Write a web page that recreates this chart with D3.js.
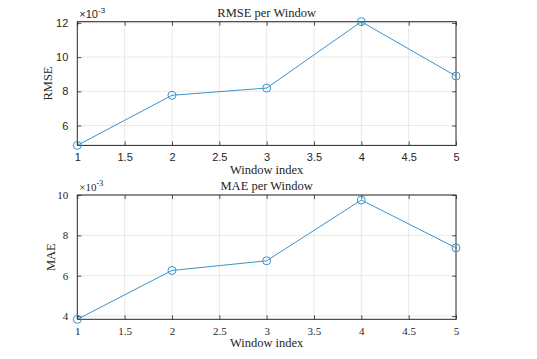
<!DOCTYPE html>
<html>
<head>
<meta charset="utf-8">
<script src="https://cdn.jsdelivr.net/npm/d3@7"></script>
<style>
  body { margin: 0; background: #fff; }
  svg { display: block; }
</style>
</head>
<body>
<div id="chart"></div>
<script>
// window indices and error values (x 1e-3)
const windows = [1, 2, 3, 4, 5];
const rmse = [4.84, 7.77, 8.19, 12.07, 8.89];
const mae = [3.84, 6.26, 6.74, 9.75, 7.38];
const xTicks = [1, 1.5, 2, 2.5, 3, 3.5, 4, 4.5, 5];
const rmseTicks = [6, 8, 10, 12];
const maeTicks = [4, 6, 8, 10];

const width = 537, height = 359;
const lineColor = "#3b93cb";
const serif = "'Liberation Serif', 'DejaVu Serif', serif";
const sans = "'Liberation Sans', Arial, sans-serif";

const svg = d3.select("#chart").append("svg")
  .attr("width", width).attr("height", height);

const panels = [
  { title: "RMSE per Window", ylab: "RMSE", values: rmse, ticks: rmseTicks,
    top: 21.7, bottom: 145.4, domain: [4.84, 12.07], tickFont: sans, ylabX: 52, labOff: 29 },
  { title: "MAE per Window", ylab: "MAE", values: mae, ticks: maeTicks,
    top: 195, bottom: 319.3, domain: [3.84, 10], tickFont: serif, ylabX: 55, labOff: 28 }
];

const left = 77.3, right = 456;

panels.forEach(p => {
  const x = d3.scaleLinear().domain([1, 5]).range([left, right]);
  const y = d3.scaleLinear().domain(p.domain).range([p.bottom, p.top]);
  const g = svg.append("g");

  // grid
  g.selectAll(".gx").data(xTicks.slice(1, -1)).enter().append("line")
    .attr("x1", d => x(d)).attr("x2", d => x(d))
    .attr("y1", p.top).attr("y2", p.bottom)
    .attr("stroke", "#e3e3e3").attr("stroke-width", 0.8);
  g.selectAll(".gy").data(p.ticks).enter().append("line")
    .attr("x1", left).attr("x2", right)
    .attr("y1", d => y(d)).attr("y2", d => y(d))
    .attr("stroke", "#e3e3e3").attr("stroke-width", 0.8);

  // axes with inward ticks on all four sides
  const fmt = d => String(d);
  const ax = [
    d3.axisBottom(x).tickValues(xTicks).tickSize(-4).tickPadding(8).tickFormat(fmt),
    d3.axisTop(x).tickValues(xTicks).tickSize(-4).tickFormat(""),
    d3.axisLeft(y).tickValues(p.ticks).tickSize(-4).tickPadding(9).tickFormat(fmt),
    d3.axisRight(y).tickValues(p.ticks).tickSize(-4).tickFormat("")
  ];
  const trans = [
    `translate(0,${p.bottom})`, `translate(0,${p.top})`,
    `translate(${left},0)`, `translate(${right},0)`
  ];
  ax.forEach((a, i) => {
    const ag = g.append("g").attr("transform", trans[i]).call(a);
    ag.select(".domain").remove();
    ag.selectAll("line").attr("stroke", "#262626").attr("stroke-width", 0.8);
    ag.selectAll("text").attr("fill", "#262626")
      .style("font-family", p.tickFont).style("font-size", "11px");
  });

  // box
  g.append("rect")
    .attr("x", left).attr("y", p.top)
    .attr("width", right - left).attr("height", p.bottom - p.top)
    .attr("fill", "none").attr("stroke", "#262626").attr("stroke-width", 1);

  // exponent label
  const ex = g.append("text").attr("x", left + 2).attr("y", p.top - 4)
    .attr("fill", "#262626").style("font-family", p.tickFont).style("font-size", "11px");
  ex.append("tspan").text("\u00d710");
  ex.append("tspan").attr("dy", -5).style("font-size", "8px").text("-3");

  // line and markers
  const pts = windows.map((w, i) => [w, p.values[i]]);
  g.append("path").datum(pts)
    .attr("d", d3.line().x(d => x(d[0])).y(d => y(d[1])))
    .attr("fill", "none").attr("stroke", lineColor).attr("stroke-width", 1);
  g.selectAll(".pt").data(pts).enter().append("circle")
    .attr("cx", d => x(d[0])).attr("cy", d => y(d[1])).attr("r", 4)
    .attr("fill", "none").attr("stroke", lineColor).attr("stroke-width", 1);

  // title and labels
  g.append("text").attr("x", (left + right) / 2).attr("y", p.top - 5)
    .attr("text-anchor", "middle").attr("fill", "#262626")
    .style("font-family", serif).style("font-size", "12.5px").text(p.title);
  g.append("text").attr("x", (left + right) / 2).attr("y", p.bottom + p.labOff)
    .attr("text-anchor", "middle").attr("fill", "#262626")
    .style("font-family", serif).style("font-size", "12.5px").text("Window index");
  g.append("text")
    .attr("transform", `translate(${p.ylabX},${(p.top + p.bottom) / 2}) rotate(-90)`)
    .attr("text-anchor", "middle").attr("fill", "#262626")
    .style("font-family", serif).style("font-size", "12.5px").text(p.ylab);
});
</script>
</body>
</html>
